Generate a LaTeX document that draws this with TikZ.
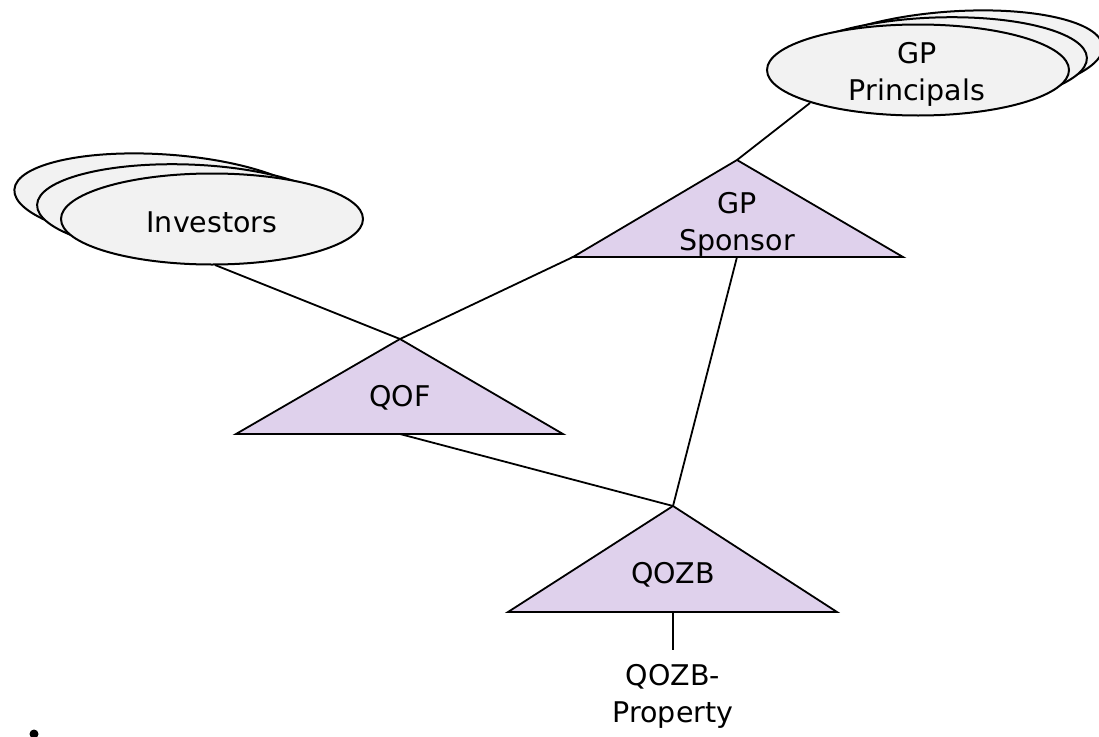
\documentclass[tikz,border=0pt]{standalone}
\usepackage{fontspec}
\setmainfont{DejaVu Sans}
\usetikzlibrary{shapes.geometric}
\definecolor{tri}{RGB}{223,209,236}
\definecolor{ellfill}{RGB}{242,242,242}
\tikzset{
  ell/.style={ellipse,draw=black,fill=ellfill,line width=2pt,minimum width=302pt,minimum height=91pt,inner sep=0pt},
  trishape/.style={draw=black,fill=tri,line width=1.8pt,line join=miter},
  conn/.style={draw=black,line width=1.8pt},
  lbl/.style={align=center,font=\fontsize{28.5}{37}\selectfont,inner sep=0pt}
}
\begin{document}
\begin{tikzpicture}[x=1pt,y=-1pt]
\useasboundingbox (0,0) rectangle (1099,736);
% key points
\coordinate (sponsorTop) at (737,160);
\coordinate (sponsorL) at (573,257);
\coordinate (sponsorR) at (903,257);
\coordinate (sponsorBase) at (737,257);
\coordinate (qofTop) at (400,339);
\coordinate (qofL) at (236,434);
\coordinate (qofR) at (563,434);
\coordinate (qofBase) at (400,434);
\coordinate (qozbTop) at (673,506);
\coordinate (qozbL) at (508,612);
\coordinate (qozbR) at (837,612);
\coordinate (qozbBase) at (673,612);
\coordinate (propTop) at (673,650);
\coordinate (gpEdge) at (810,103);
\coordinate (invEdge) at (215,265);
% connectors
\draw[conn] (gpEdge) -- (sponsorTop);
\draw[conn] (invEdge) -- (qofTop);
\draw[conn] (qofTop) -- (sponsorL);
\draw[conn] (sponsorBase) -- (qozbTop);
\draw[conn] (qofBase) -- (qozbTop);
\draw[conn] (qozbBase) -- (propTop);
% triangles
\draw[trishape] (sponsorTop) -- (sponsorR) -- (sponsorL) -- cycle;
\draw[trishape] (qofTop) -- (qofR) -- (qofL) -- cycle;
\draw[trishape] (qozbTop) -- (qozbR) -- (qozbL) -- cycle;
% ellipses: GP Principals
\node[ell,rotate=4] (gpback) at (952,57) {};
\node[ell,rotate=2] (gpmid) at (936,63) {};
\node[ell] (gp) at (918,70) {};
\node[lbl] (gplbl) at (917,74) {GP\\Principals};
% ellipses: Investors
\node[ell,rotate=-4] (invback) at (165,200) {};
\node[ell,rotate=-2] (invmid) at (188,210) {};
\node[ell] (inv) at (212,219) {};
\node[lbl] (invlbl) at (212,222) {Investors};
% triangle labels
\node[lbl] (sponsor) at (737,224) {GP\\Sponsor};
\node[lbl] (qof) at (400,398) {QOF};
\node[lbl] (qozb) at (673,575) {QOZB};
\node[lbl,anchor=north] (prop) at (673,664) {QOZB-\\Property};
% bullet dot
\fill (34,734) circle (4.5);
\end{tikzpicture}
\end{document}
